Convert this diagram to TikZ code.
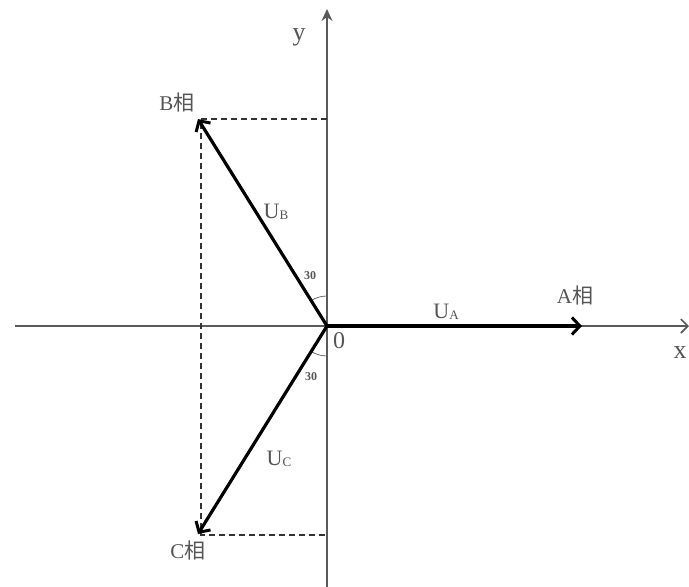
\documentclass[tikz,border=0pt]{standalone}
\usepackage{fontspec}
\setmainfont{Liberation Serif}
\newfontfamily\cjk{Noto Sans CJK SC}
\usetikzlibrary{arrows.meta}
\definecolor{axisgray}{RGB}{90,90,90}
\definecolor{txtgray}{RGB}{85,85,85}
\tikzset{
  axisline/.style={draw=axisgray, line width=1.6pt},
  vecline/.style={draw=black, line width=3.2pt, -{Straight Barb[length=8pt,width=17pt,line width=3pt]}},
  dashline/.style={draw=black!80, line width=1.4pt, dash pattern=on 6pt off 4pt},
  lbl/.style={text=txtgray, font=\fontsize{21}{22}\selectfont, inner sep=0pt},
  anglbl/.style={text=txtgray, font=\fontsize{12}{12}\selectfont\bfseries, inner sep=0pt},
  arcline/.style={draw=axisgray, line width=0.7pt}
}
\newcommand{\subl}[1]{\raisebox{-0.1ex}{\fontsize{13}{13}\selectfont #1}}
\begin{document}
\begin{tikzpicture}[x=1pt,y=-1pt]
\useasboundingbox (0,0) rectangle (689,587);
\coordinate (O) at (327,326);
\coordinate (A) at (582,326);
\coordinate (B) at (198,119);
\coordinate (C) at (198,534);
\coordinate (xl) at (15,326);
\coordinate (xr) at (689,326);
\coordinate (yb) at (327,592);
\coordinate (yt) at (327,9);
\coordinate (Bd) at (327,119);
\coordinate (Cd) at (327,535);
\coordinate (Bv) at (201,119);
\coordinate (Cv) at (201,535);
% axes
\draw[axisline, -{Straight Barb[length=7pt,width=14pt,line width=1.6pt]}] (xl) -- (xr);
\draw[axisline, -{Stealth[length=12pt,width=11pt]}] (yb) -- (yt);
% dashed
\draw[dashline] (Bd) -- (Bv) -- (Cv) -- (Cd);
% angle arcs
\draw[arcline] ([shift={(270:30)}]O) arc[start angle=270, end angle=238, radius=30];
\draw[arcline] ([shift={(90:30)}]O) arc[start angle=90, end angle=122, radius=30];
% vectors
\draw[vecline] (O) -- (A);
\draw[vecline] (O) -- (B);
\draw[vecline] (O) -- (C);
% labels
\node[lbl] (ylab) at (299,37) {\fontsize{26}{26}\selectfont y};
\node[lbl] (xlab) at (680,353) {\fontsize{26}{26}\selectfont x};
\node[lbl] (Blab) at (177,103) {B{\cjk 相}};
\node[lbl] (Alab) at (575,296) {A{\cjk 相}};
\node[lbl] (Clab) at (188,551) {C{\cjk 相}};
\node[lbl] (UB) at (276,212) {\fontsize{22}{22}\selectfont U\subl{B}};
\node[lbl] (UA) at (446,312) {\fontsize{22}{22}\selectfont U\subl{A}};
\node[lbl] (UC) at (279,459) {\fontsize{22}{22}\selectfont U\subl{C}};
\node[lbl] (zero) at (339,341) {\fontsize{24}{24}\selectfont 0};
\node[anglbl] (a1) at (310,276) {30};
\node[anglbl] (a2) at (311,377) {30};
\end{tikzpicture}
\end{document}
